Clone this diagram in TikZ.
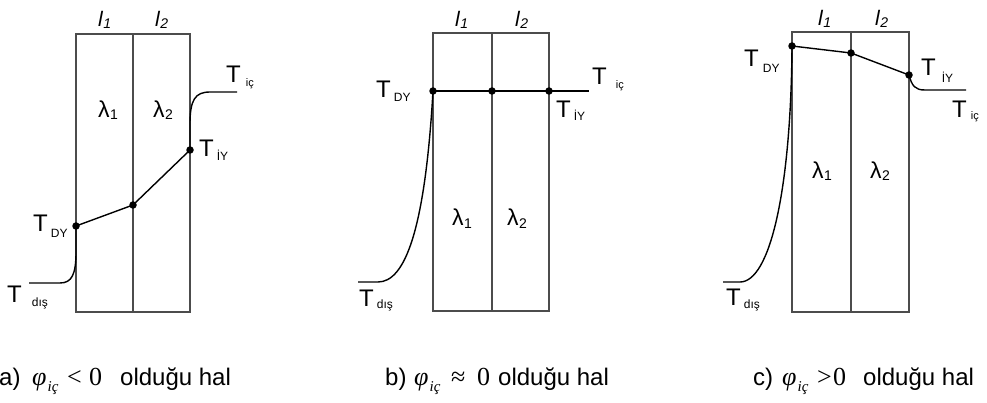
\documentclass[tikz,border=0pt]{standalone}
\usepackage{fontspec}
\setmainfont{Liberation Sans}
\newfontfamily\tms{Liberation Serif}
\newcommand\TT[4][3pt]{T\kern#1\raisebox{-#2}{\fontsize{#4}{#4}\selectfont #3}}
\newcommand\LamSub[1]{λ\kern0.5pt\raisebox{-2pt}{\fontsize{14}{14}\selectfont #1}}
\newcommand\LenSub[1]{\itshape l\kern0.5pt\raisebox{-2pt}{\fontsize{14}{14}\selectfont #1}}
\newcommand\phiic{{\tms\itshape φ\kern1pt\raisebox{-6pt}{\fontsize{15}{15}\selectfont iç}}}
\begin{document}
\begin{tikzpicture}[x=1pt,y=-1pt,
  wall/.style={draw=black!70,line width=1.25pt},
  prof/.style={draw=black,line width=1.4pt},
  pt/.style={circle,fill=black,inner sep=0pt,minimum size=7.5pt},
  lbl/.style={inner sep=0pt,anchor=base west,font=\fontsize{24}{24}\selectfont},
  lam/.style={inner sep=0pt,anchor=base west,font=\fontsize{23}{23}\selectfont},
  len/.style={inner sep=0pt,anchor=base west,font=\fontsize{21}{21}\selectfont},
  captxt/.style={inner sep=0pt,anchor=base west,font=\fontsize{24}{24}\selectfont},
  capmath/.style={inner sep=0pt,anchor=base west,font=\fontsize{26}{26}\selectfont\tms}]
\useasboundingbox (0,0) rectangle (987,403);

% ---------------- panel a ----------------
\draw[wall] (76,34) rectangle (190,312);
\draw[wall] (133,34) -- (133,312);
\node[pt] (aDY) at (76,226) {};
\node[pt] (aM) at (133,205) {};
\node[pt] (aIY) at (190,150) {};
\coordinate (aDis) at (29,283);
\coordinate (aIc) at (237,92);
\draw[prof] (aDY.center) -- (aM.center) -- (aIY.center);
\draw[prof] (aDY.center) -- (76,252) .. controls (76,274) and (72,283) .. (60,283) -- (aDis);
\draw[prof] (aIY.center) -- (190,124) .. controls (190,100) and (195,92) .. (210,92) -- (aIc);
\node[lbl] (aTdis) at (7,302) {\TT[10pt]{4pt}{dış}{12}};
\node[lbl] (aTdy) at (33,232) {\TT{6pt}{DY}{12}};
\node[lbl] (aTiy) at (199,157) {\TT{4pt}{İY}{12}};
\node[lbl] (aTic) at (226,83) {\TT[5pt]{4pt}{iç}{11}};
\node[lam] (aL1) at (98,118) {\LamSub{1}};
\node[lam] (aL2) at (153,118) {\LamSub{2}};
\node[len] (al1) at (98,27) {\LenSub{1}};
\node[len] (al2) at (155,27) {\LenSub{2}};

% ---------------- panel b ----------------
\draw[wall] (433,33) rectangle (549,311);
\draw[wall] (492,33) -- (492,311);
\node[pt] (bDY) at (433,91) {};
\node[pt] (bM) at (492,91) {};
\node[pt] (bIY) at (549,91) {};
\coordinate (bIc) at (589,91);
\coordinate (bDis) at (358,282);
\draw[prof] (bDY.center) -- (bM.center) -- (bIY.center) -- (bIc);
\draw[prof] (bDY.center) .. controls (425,230) and (405,282) .. (378,282) -- (bDis);
\node[lbl] (bTdis) at (359,306) {\TT{2pt}{dış}{12}};
\node[lbl] (bTdy) at (376,98) {\TT{4pt}{DY}{12}};
\node[lbl] (bTiy) at (556,118) {\TT{3pt}{İY}{12}};
\node[lbl] (bTic) at (592,85) {\TT[9pt]{4pt}{iç}{11}};
\node[lam] (bL1) at (452,226) {\LamSub{1}};
\node[lam] (bL2) at (507,226) {\LamSub{2}};
\node[len] (bl1) at (455,27) {\LenSub{1}};
\node[len] (bl2) at (515,27) {\LenSub{2}};

% ---------------- panel c ----------------
\draw[wall] (792,32) rectangle (909,312);
\draw[wall] (851,32) -- (851,312);
\node[pt] (cDY) at (792,46) {};
\node[pt] (cM) at (851,53) {};
\node[pt] (cIY) at (909,75) {};
\coordinate (cIc) at (966,90);
\coordinate (cDis) at (723,282);
\draw[prof] (cDY.center) -- (cM.center) -- (cIY.center);
\draw[prof] (cIY.center) .. controls (912,86) and (915,90) .. (925,90) -- (cIc);
\draw[prof] (cDY.center) .. controls (791,190) and (770,282) .. (740,282) -- (cDis);
\node[lbl] (cTdis) at (726,305) {\TT{3pt}{dış}{12}};
\node[lbl] (cTdy) at (744,67) {\TT[4pt]{6pt}{DY}{12}};
\node[lbl] (cTiy) at (921,76) {\TT[6pt]{7pt}{İY}{12}};
\node[lbl] (cTic) at (952,118) {\TT[4pt]{2pt}{iç}{11}};
\node[lam] (cL1) at (812,179) {\LamSub{1}};
\node[lam] (cL2) at (870,179) {\LamSub{2}};
\node[len] (cl1) at (818,26) {\LenSub{1}};
\node[len] (cl2) at (875,26) {\LenSub{2}};

% ---------------- captions ----------------
\node[captxt] (ca) at (-1,385) {a)};
\node[capmath] (caphi) at (32,385) {\phiic};
\node[capmath] (carel) at (67,385) {<};
\node[capmath] (cazero) at (89,385) {0};
\node[captxt] (catext) at (120,385) {olduğu hal};

\node[captxt] (cb) at (385,385) {b)};
\node[capmath] (cbphi) at (414,385) {\phiic};
\node[capmath] (cbrel) at (451,385) {≈};
\node[capmath] (cbzero) at (477,385) {0};
\node[captxt] (cbtext) at (498,385) {olduğu hal};

\node[captxt] (cc) at (753,385) {c)};
\node[capmath] (ccphi) at (782,385) {\phiic};
\node[capmath] (ccrel) at (817,385) {>};
\node[capmath] (cczero) at (833,385) {0};
\node[captxt] (cctext) at (863,385) {olduğu hal};
\end{tikzpicture}
\end{document}
